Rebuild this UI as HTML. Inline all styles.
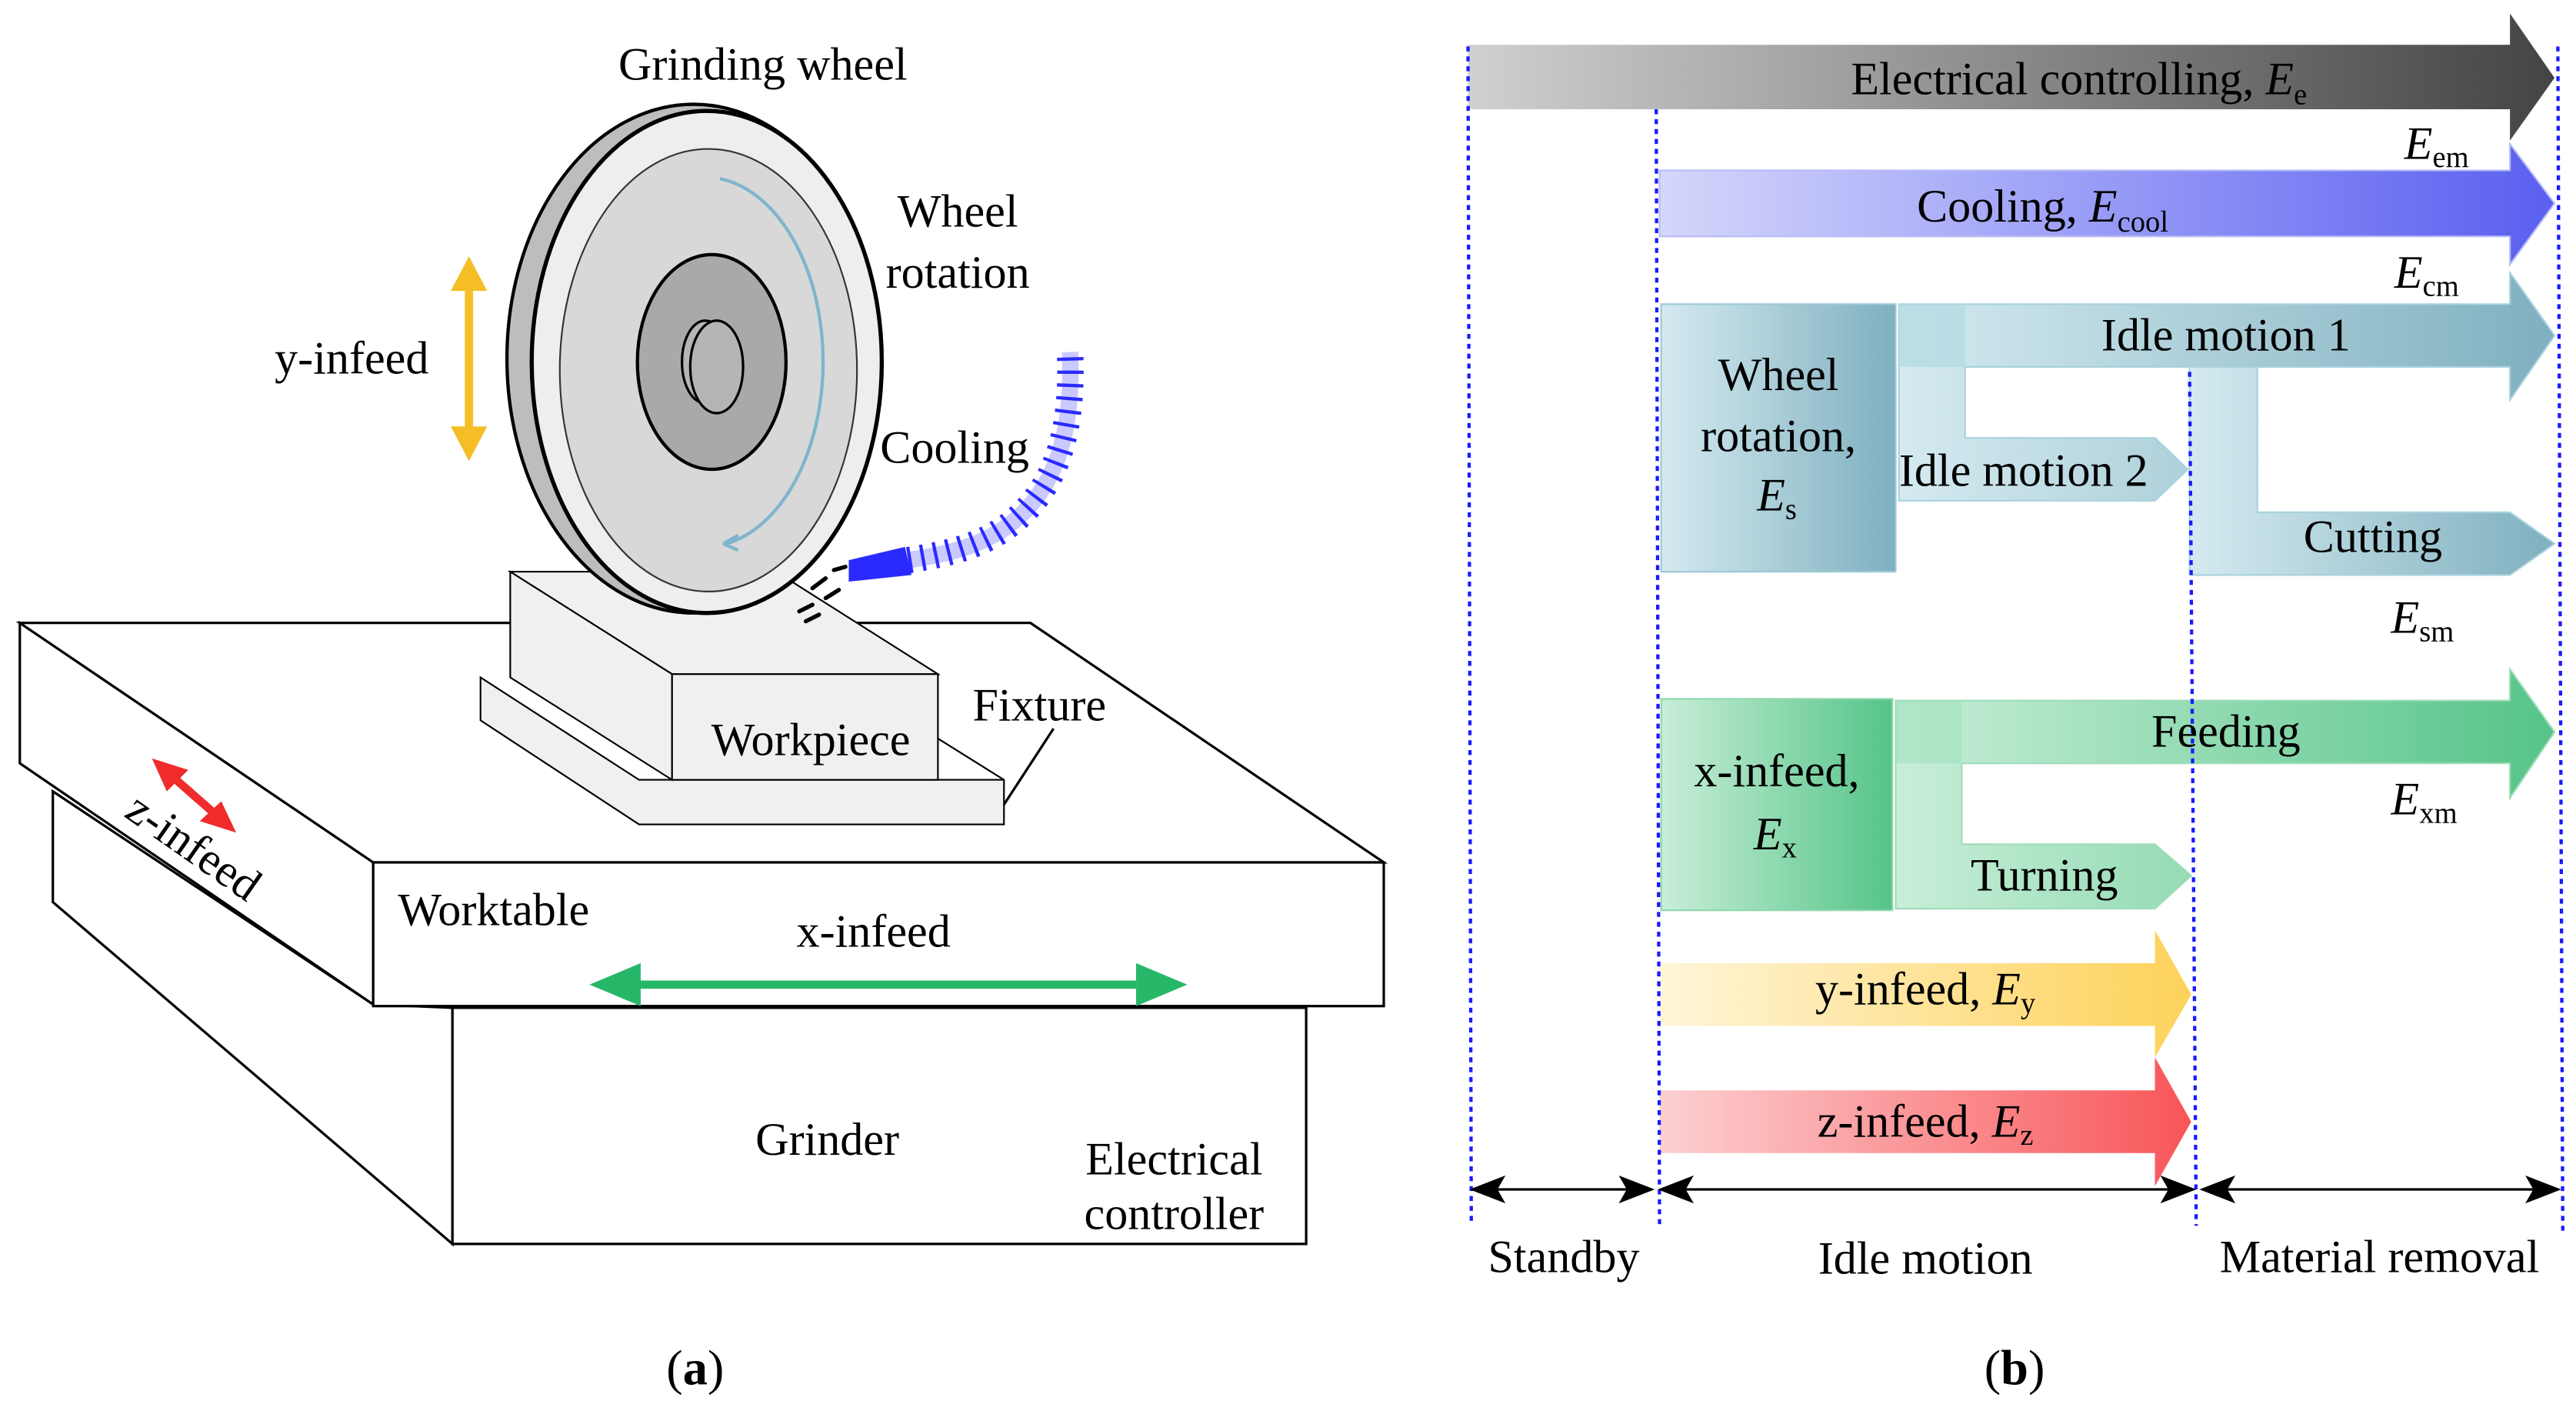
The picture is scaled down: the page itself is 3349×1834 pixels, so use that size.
<!DOCTYPE html>
<html><head><meta charset="utf-8"><style>html,body{margin:0;padding:0;background:#fff}svg{display:block}text{font-family:"Liberation Serif","Noto Serif CJK SC","DejaVu Serif",serif}</style></head>
<body>
<svg width="3349" height="1834" viewBox="0 0 1560 854" xmlns="http://www.w3.org/2000/svg" font-size="28">
<defs>
<linearGradient id="gE" x1="0" x2="1"><stop offset="0" stop-color="#d0d0d0"/><stop offset="1" stop-color="#444"/></linearGradient>
<linearGradient id="gC" x1="0" x2="1"><stop offset="0" stop-color="#d4d6fb"/><stop offset="1" stop-color="#5a5ff0"/></linearGradient>
<linearGradient id="gS" x1="0" x2="1"><stop offset="0" stop-color="#d4eaf0"/><stop offset="1" stop-color="#7fb0bf"/></linearGradient>
<linearGradient id="gX" x1="0" x2="1"><stop offset="0" stop-color="#c8eed8"/><stop offset="1" stop-color="#55c488"/></linearGradient>
<linearGradient id="gY" x1="0" x2="1"><stop offset="0" stop-color="#fff5d8"/><stop offset="1" stop-color="#fdd25a"/></linearGradient>
<linearGradient id="gZ" x1="0" x2="1"><stop offset="0" stop-color="#fcd0d2"/><stop offset="1" stop-color="#f85558"/></linearGradient>
</defs>

<!-- LEFT PANEL -->
<g stroke="#000" stroke-width="1.5" fill="#fff">
<polygon points="32,479 226,608 274,610 274,753 32,546"/>
<rect x="274" y="610" width="517" height="143"/>
<polygon points="12,377 226,522 226,608 12,462"/>
<polygon points="12,377 624,377 838,522 226,522"/>
<rect x="226" y="522" width="612" height="87"/>
</g>
<g stroke="#000" stroke-width="1" fill="#f0f0f0">
<polygon points="291,410 387,472 608,472 608,499 387,499 291,436"/>
<line x1="568" y1="447" x2="608" y2="472"/>
<polygon points="309,346 470,346 568,408 407,408"/>
<polygon points="309,346 407,408 407,472 309,410"/>
<rect x="407" y="408" width="161" height="64"/>
</g>
<line x1="638" y1="441" x2="608" y2="487" stroke="#000" stroke-width="1.5"/>
<!-- wheel -->
<ellipse cx="420" cy="217" rx="113" ry="154" fill="#bdbdbd" stroke="#000" stroke-width="2"/>
<ellipse cx="428" cy="219" rx="106" ry="152" fill="#eeeeee" stroke="#000" stroke-width="2.5"/>
<ellipse cx="429" cy="224" rx="90" ry="134" fill="#d8d8d8" stroke="#333" stroke-width="1"/>
<path d="M436,108 A72,112 0 0 1 440,329" fill="none" stroke="#7fb4cc" stroke-width="2"/>
<path d="M438,329 l9,-5 M438,329 l9,4" stroke="#7fb4cc" stroke-width="2"/>
<ellipse cx="431" cy="219" rx="45" ry="65" fill="#a9a9a9" stroke="#000" stroke-width="2"/>
<ellipse cx="427" cy="219" rx="14" ry="25" fill="#b5b5b5" stroke="#000" stroke-width="1.5"/>
<ellipse cx="434" cy="222" rx="16" ry="28" fill="#b5b5b5" stroke="#000" stroke-width="1.5"/>
<g stroke="#000" stroke-width="2.5" stroke-linecap="round">
<line x1="492" y1="356" x2="500" y2="350"/><line x1="500" y1="362" x2="508" y2="357"/><line x1="484" y1="370" x2="492" y2="366"/><line x1="488" y1="376" x2="496" y2="372"/><line x1="505" y1="345" x2="512" y2="343"/>
</g>
<path d="M550,339 C575,335 600,330 620,310 C640,290 650,260 648,213" fill="none" stroke="#2a2aff" stroke-width="16" stroke-dasharray="2 6"/>
<path d="M550,339 C575,335 600,330 620,310 C640,290 650,260 648,213" fill="none" stroke="#2a2aff" stroke-width="10" opacity="0.25"/>
<polygon points="514,339 548,331 552,348 514,352" fill="#2a2aff"/>
<g fill="#f5bd26" stroke="#f5bd26">
<line x1="284" y1="166" x2="284" y2="268" stroke-width="5"/>
<polygon points="273,176 284,155 295,176" stroke="none"/><polygon points="273,258 284,279 295,258" stroke="none"/>
</g>
<g fill="#ef2b2b" stroke="#ef2b2b">
<line x1="101" y1="467" x2="134" y2="496" stroke-width="5"/>
<polygon points="92,459 114,466 101,479" stroke="none"/><polygon points="143,504 121,497 134,485" stroke="none"/>
</g>
<g fill="#26b868" stroke="#26b868">
<line x1="375" y1="596" x2="700" y2="596" stroke-width="5"/>
<polygon points="357,596 388,583 388,609" stroke="none"/><polygon points="719,596 688,583 688,609" stroke="none"/>
</g>
<g fill="#000">
<text x="462" y="48" text-anchor="middle">Grinding wheel</text>
<text x="580" y="137" text-anchor="middle">Wheel</text>
<text x="580" y="174" text-anchor="middle">rotation</text>
<text x="213" y="226" text-anchor="middle">y-infeed</text>
<text x="533" y="280">Cooling</text>
<text x="491" y="457" text-anchor="middle">Workpiece</text>
<text x="589" y="436">Fixture</text>
<text x="241" y="560">Worktable</text>
<text x="529" y="573" text-anchor="middle">x-infeed</text>
<text transform="translate(112,520) rotate(35)" text-anchor="middle">z-infeed</text>
<text x="501" y="699" text-anchor="middle">Grinder</text>
<text x="711" y="711" text-anchor="middle">Electrical</text>
<text x="711" y="744" text-anchor="middle">controller</text>
<text x="421" y="838" text-anchor="middle" font-size="30">(<tspan font-weight="bold">a</tspan>)</text>
</g>

<!-- RIGHT PANEL -->
<polygon points="889,27 1520,27 1520,8 1547,47 1520,85 1520,66 889,66" fill="url(#gE)"/>
<polygon points="1005,103 1520,103 1520,87 1547,123 1520,160 1520,143 1005,143" fill="url(#gC)" stroke="#b8bcf5" stroke-width="1"/>
<rect x="1006" y="184" width="142" height="162" fill="url(#gS)" stroke="#9cc9d6"/>
<polygon points="1150,184 1520,184 1520,165 1547,203 1520,242 1520,222 1190,222 1190,265 1305,265 1325,284 1305,303 1150,303" fill="url(#gS)" stroke="#a8d2dd"/>
<rect x="1150" y="184" width="40" height="38" fill="#b0d8e3" opacity="0.7"/>
<polygon points="1326,222 1367,222 1367,310 1520,310 1547,329 1520,348 1326,348" fill="url(#gS)" stroke="#a8d2dd"/>
<rect x="1006" y="423" width="140" height="128" fill="url(#gX)" stroke="#8fd6ad"/>
<polygon points="1148,424 1520,424 1520,405 1547,443 1520,483 1520,462 1188,462 1188,511 1305,511 1327,530 1305,550 1148,550" fill="url(#gX)" stroke="#9fdcb9"/>
<rect x="1148" y="424" width="40" height="38" fill="#a5e2c0" opacity="0.7"/>
<polygon points="1005,583 1305,583 1305,563 1327,602 1305,640 1305,621 1005,621" fill="url(#gY)"/>
<polygon points="1005,660 1305,660 1305,640 1327,679 1305,718 1305,698 1005,698" fill="url(#gZ)"/>
<g stroke="#1a1aff" stroke-width="2" stroke-dasharray="3 3">
<line x1="889" y1="28" x2="891" y2="740"/>
<line x1="1003" y1="66" x2="1005" y2="742"/>
<line x1="1326" y1="225" x2="1330" y2="742"/>
<line x1="1549" y1="28" x2="1552" y2="746"/>
</g>
<g stroke="#000" stroke-width="1.5" fill="#000">
<line x1="895" y1="720" x2="997" y2="720"/>
<line x1="1009" y1="720" x2="1325" y2="720"/>
<line x1="1337" y1="720" x2="1546" y2="720"/>
<polygon points="892,720 910,713 906,720 910,727"/><polygon points="1000,720 982,713 986,720 982,727"/>
<polygon points="1006,720 1024,713 1020,720 1024,727"/><polygon points="1328,720 1310,713 1314,720 1310,727"/>
<polygon points="1334,720 1352,713 1348,720 1352,727"/><polygon points="1549,720 1531,713 1535,720 1531,727"/>
</g>
<g fill="#000">
<text x="1259" y="57" text-anchor="middle">Electrical controlling, <tspan font-style="italic">E</tspan><tspan font-size="18" dy="6">e</tspan></text>
<text x="1237" y="134" text-anchor="middle">Cooling, <tspan font-style="italic">E</tspan><tspan font-size="18" dy="6">cool</tspan></text>
<text x="1456" y="96" font-style="italic">E<tspan font-style="normal" font-size="18" dy="5">em</tspan></text>
<text x="1450" y="174" font-style="italic">E<tspan font-style="normal" font-size="18" dy="5">cm</tspan></text>
<text x="1348" y="212" text-anchor="middle">Idle motion 1</text>
<text x="1077" y="236" text-anchor="middle">Wheel</text>
<text x="1077" y="273" text-anchor="middle">rotation,</text>
<text x="1064" y="309" font-style="italic">E<tspan font-style="normal" font-size="18" dy="5">s</tspan></text>
<text x="1150" y="294">Idle motion 2</text>
<text x="1437" y="334" text-anchor="middle">Cutting</text>
<text x="1448" y="383" font-style="italic">E<tspan font-style="normal" font-size="18" dy="5">sm</tspan></text>
<text x="1348" y="452" text-anchor="middle">Feeding</text>
<text x="1076" y="476" text-anchor="middle">x-infeed,</text>
<text x="1062" y="514" font-style="italic">E<tspan font-style="normal" font-size="18" dy="5">x</tspan></text>
<text x="1238" y="539" text-anchor="middle">Turning</text>
<text x="1448" y="493" font-style="italic">E<tspan font-style="normal" font-size="18" dy="5">xm</tspan></text>
<text x="1166" y="608" text-anchor="middle">y-infeed, <tspan font-style="italic">E</tspan><tspan font-size="18" dy="5">y</tspan></text>
<text x="1166" y="688" text-anchor="middle">z-infeed, <tspan font-style="italic">E</tspan><tspan font-size="18" dy="5">z</tspan></text>
<text x="947" y="770" text-anchor="middle">Standby</text>
<text x="1166" y="771" text-anchor="middle">Idle motion</text>
<text x="1441" y="770" text-anchor="middle">Material removal</text>
<text x="1220" y="838" text-anchor="middle" font-size="30">(<tspan font-weight="bold">b</tspan>)</text>
</g>
</svg>
</body></html>
